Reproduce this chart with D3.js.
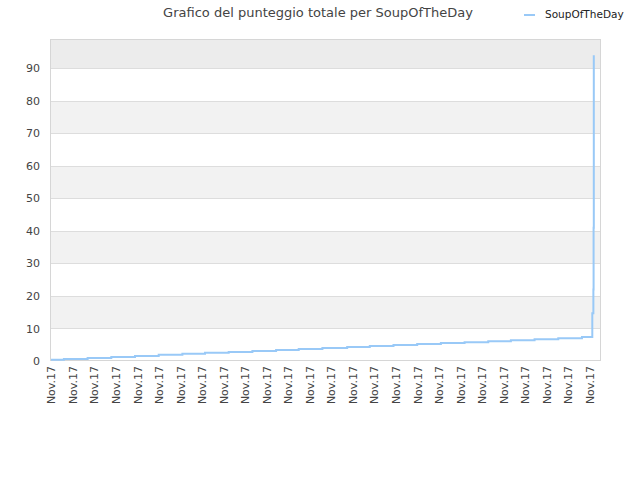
<!DOCTYPE html>
<html lang="it">
<head>
    <meta charset="utf-8">
    <title>Grafico del punteggio totale</title>
    <script src="https://d3js.org/d3.v7.min.js"></script>
    <style>
        body { margin: 0; background: #fff; }
        text { font-family: "DejaVu Sans", sans-serif; }
    </style>
</head>
<body>
<svg width="640" height="480"></svg>
<script>
    // dati: indice del punto in cui cambia il punteggio e valore
    var stepIdx = [0, 6, 17, 28, 39, 50, 61, 71.5, 82.5, 93.5, 104.5, 115, 126, 137.5, 148, 159, 170, 181, 192, 203, 213.5, 224.5, 235.5, 246.5, 251.3, 251.8, 251.9, 252, 252];
    var stepVal = [0.35, 0.65, 0.95, 1.25, 1.55, 1.9, 2.2, 2.5, 2.8, 3.1, 3.4, 3.7, 4.0, 4.3, 4.6, 4.9, 5.2, 5.5, 5.8, 6.1, 6.4, 6.7, 7.0, 7.4, 14.7, 22, 41, 66, 94];
    var nPoints = 253;
    var labelEvery = 10;
    var xLabel = "Nov.17";
    var yTicks = [0, 10, 20, 30, 40, 50, 60, 70, 80, 90];
    var serie = "SoupOfTheDay";
    var titolo = "Grafico del punteggio totale per SoupOfTheDay";

    var svg = d3.select("svg");
    var plot = {left: 51, right: 600, top: 40, bottom: 361};

    var x = d3.scaleLinear().domain([0, 250]).range([plot.left, 589.5]);
    var y = d3.scaleLinear().domain([0, 98.7]).range([plot.bottom, plot.top]);

    // bande alternate
    var bands = d3.range(0, 100, 10);
    svg.append("g").selectAll("rect")
        .data(bands)
        .enter().append("rect")
        .attr("x", plot.left)
        .attr("width", plot.right - plot.left)
        .attr("y", function(d){ return Math.max(plot.top, y(d + 10)); })
        .attr("height", function(d){ return y(d) - Math.max(plot.top, y(d + 10)); })
        .attr("fill", function(d){
            if (d == 90) return "#ececec";
            return (d / 10) % 2 == 1 ? "#f2f2f2" : "#ffffff";
        });

    // griglia
    svg.append("g").selectAll("line")
        .data(yTicks.slice(1))
        .enter().append("line")
        .attr("x1", plot.left).attr("x2", plot.right)
        .attr("y1", function(d){ return Math.round(y(d)) + 0.5; })
        .attr("y2", function(d){ return Math.round(y(d)) + 0.5; })
        .attr("stroke", "#dddddd");

    // cornice
    svg.append("rect")
        .attr("x", plot.left - 0.5).attr("y", plot.top - 0.5)
        .attr("width", plot.right - plot.left + 1).attr("height", plot.bottom - plot.top)
        .attr("fill", "none").attr("stroke", "#d6d6d6");

    // asse y
    var yAxis = d3.axisLeft(y).tickValues(yTicks).tickSize(0).tickPadding(11);
    var gy = svg.append("g").attr("transform", "translate(" + plot.left + ",0)").call(yAxis);
    gy.select(".domain").remove();
    gy.selectAll("text").attr("font-size", 11).attr("fill", "#444");

    // asse x
    var xAxis = d3.axisBottom(x)
        .tickValues(d3.range(0, nPoints, labelEvery))
        .tickFormat(function(){ return xLabel; })
        .tickSize(0);
    var gx = svg.append("g").attr("transform", "translate(0," + plot.bottom + ")").call(xAxis);
    gx.select(".domain").remove();
    gx.selectAll("text")
        .attr("font-size", 11).attr("fill", "#444")
        .attr("transform", "rotate(-90)")
        .attr("text-anchor", "end")
        .attr("x", -5).attr("y", 0).attr("dy", "0.35em");

    // linea a gradini
    var punti = stepIdx.map(function(d, i){ return [d, stepVal[i]]; });
    var line = d3.line()
        .x(function(d){ return x(d[0]); })
        .y(function(d){ return y(d[1]); })
        .curve(d3.curveStepAfter);
    svg.append("path")
        .datum(punti)
        .attr("d", line)
        .attr("fill", "none")
        .attr("stroke", "#99c9f7")
        .attr("stroke-width", 2);

    // titolo
    svg.append("text")
        .attr("x", 318).attr("y", 17)
        .attr("text-anchor", "middle")
        .attr("font-size", 13).attr("fill", "#444")
        .text(titolo);

    // legenda
    svg.append("line")
        .attr("x1", 524).attr("x2", 535).attr("y1", 15).attr("y2", 15)
        .attr("stroke", "#99c9f7").attr("stroke-width", 2);
    svg.append("text")
        .attr("x", 545).attr("y", 18)
        .attr("font-size", 10.5).attr("fill", "#222")
        .text(serie);
</script>
</body>
</html>
